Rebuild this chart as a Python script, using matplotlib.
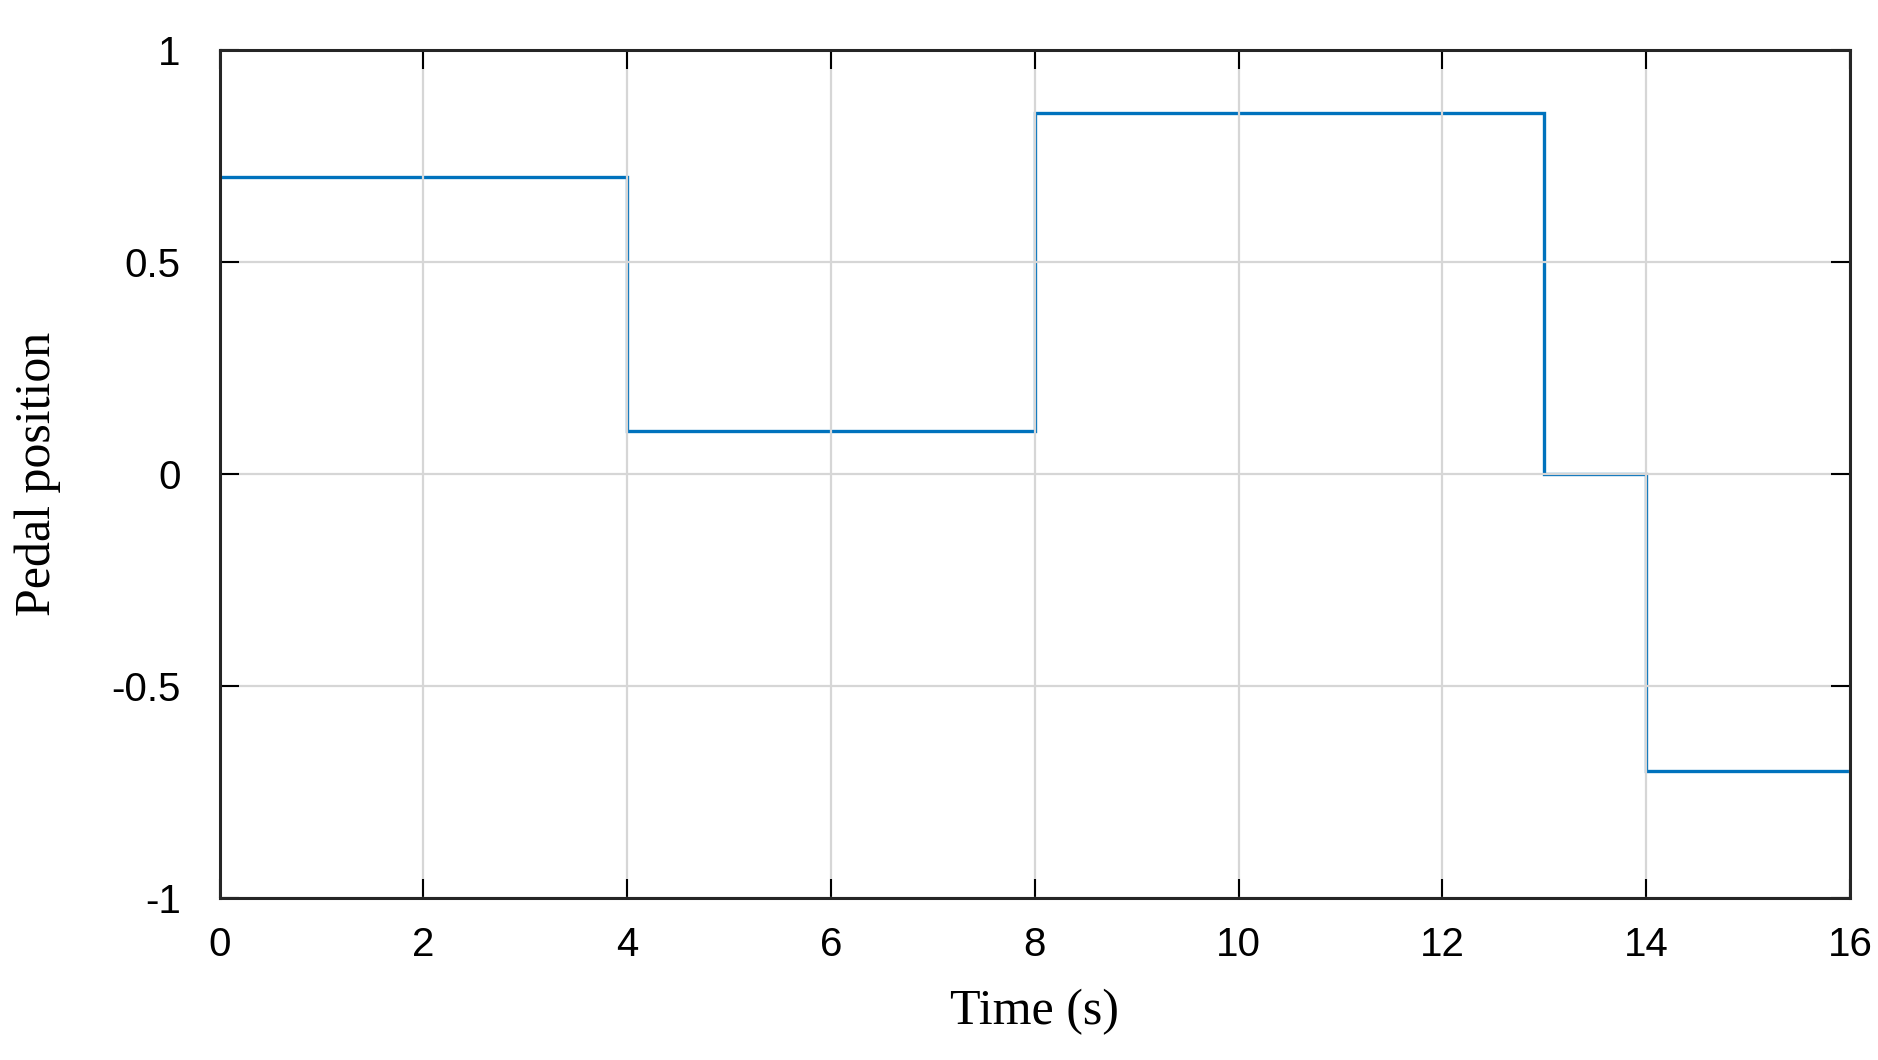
import matplotlib
matplotlib.use("Agg")
import matplotlib.pyplot as plt

# step edges and pedal levels
time_edges = [0, 4, 8, 13, 14, 16]
pedal_levels = [0.7, 0.1, 0.85, 0.0, -0.7]
x_ticks = [0, 2, 4, 6, 8, 10, 12, 14, 16]
y_ticks = [-1, -0.5, 0, 0.5, 1]
y_labels = ["-1", "-0.5", "0", "0.5", "1"]

fig = plt.figure(figsize=(18.78, 10.6), dpi=100)
ax = fig.add_axes([0.117, 0.153, 0.868, 0.8])

ax.stairs(pedal_levels, time_edges, baseline=None, color="#0072BD", linewidth=2.4)

ax.set_xlim(0, 16)
ax.set_ylim(-1, 1)
ax.set_xticks(x_ticks)
ax.set_yticks(y_ticks)
ax.set_yticklabels(y_labels)
for lab in ax.get_xticklabels() + ax.get_yticklabels():
    lab.set_fontfamily("Liberation Sans")
    lab.set_fontsize(29)
ax.tick_params(axis="x", direction="in", length=14, width=1.5, top=True, pad=20)
ax.tick_params(axis="y", direction="in", length=14, width=1.5, right=True, pad=28)
ax.grid(True, color="#d6d6d6", linewidth=1.6)
for s in ax.spines.values():
    s.set_linewidth(2.2)
    s.set_color("#262626")

ax.set_xlabel("Time (s)", fontfamily="Liberation Serif", fontsize=36, labelpad=18)
ax.set_ylabel("Pedal position", fontfamily="Liberation Serif", fontsize=36, labelpad=36)

fig.savefig("out.png", dpi=100)
